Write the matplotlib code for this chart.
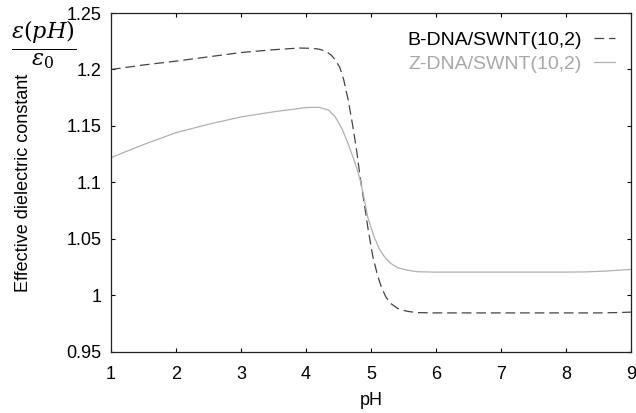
import matplotlib
matplotlib.use("Agg")
import matplotlib.pyplot as plt

plt.rcParams['font.family'] = ['Liberation Sans', 'DejaVu Sans']
plt.rcParams['lines.scale_dashes'] = False
plt.rcParams['mathtext.fontset'] = 'dejavuserif'

# Data
ph_b = [1.0, 1.5, 2.0, 2.5, 3.0, 3.5, 3.9, 4.1, 4.2, 4.3, 4.39, 4.45, 4.52, 4.58, 4.65, 4.72,
        4.78, 4.83, 4.90, 4.96, 5.03, 5.10, 5.16, 5.23, 5.30, 5.41, 5.55, 5.70, 6.0, 7.0, 8.0,
        8.5, 8.8, 9.0]
eps_b = [1.200, 1.2040, 1.2074, 1.2112, 1.2150, 1.2175, 1.2190, 1.2187, 1.2180, 1.2163,
         1.2127, 1.2085, 1.2020, 1.1910, 1.1728, 1.1500, 1.1280, 1.1060, 1.0800, 1.0570,
         1.0340, 1.0180, 1.0073, 0.9985, 0.9930, 0.9885, 0.9860, 0.9848, 0.9845, 0.9845,
         0.9845, 0.9845, 0.9848, 0.9852]

ph_z = [1.0, 1.5, 2.0, 2.5, 3.0, 3.5, 4.0, 4.2, 4.35, 4.45, 4.55, 4.65, 4.72, 4.78, 4.83,
        4.88, 4.95, 5.05, 5.13, 5.21, 5.30, 5.41, 5.55, 5.70, 6.0, 7.0, 8.0, 8.3, 8.6, 9.0]
eps_z = [1.1220, 1.1335, 1.1441, 1.1515, 1.1580, 1.1625, 1.1663, 1.1665, 1.1640, 1.1580,
         1.1480, 1.1340, 1.1230, 1.1130, 1.1030, 1.0900, 1.0693, 1.0516, 1.0410, 1.0340,
         1.0285, 1.0245, 1.0225, 1.0210, 1.0206, 1.0206, 1.0206, 1.0208, 1.0215, 1.0230]

xticks = [1, 2, 3, 4, 5, 6, 7, 8, 9]
yticks = [0.95, 1.0, 1.05, 1.1, 1.15, 1.2, 1.25]
ytick_labels = ['0.95', '1', '1.05', '1.1', '1.15', '1.2', '1.25']

fig = plt.figure(figsize=(6.36, 4.13), dpi=100)
ax = fig.add_axes([0.1745, 0.148, 0.8176, 0.8205])

ax.plot(ph_b, eps_b, color='#444444', lw=0.9, dashes=(7, 3.5), label='B-DNA/SWNT(10,2)')
ax.plot(ph_z, eps_z, color='#b0b0b0', lw=0.9, label='Z-DNA/SWNT(10,2)')

ax.set_xlim(1, 9)
ax.set_ylim(0.95, 1.25)
ax.set_xticks(xticks)
ax.set_xticklabels([str(t) for t in xticks])
ax.set_yticks(yticks)
ax.set_yticklabels(ytick_labels)
ax.tick_params(direction='in', top=True, right=True, length=3, width=0.8,
               labelsize=13, colors='black')
ax.tick_params(axis='y', pad=7)
ax.tick_params(axis='x', pad=10)
for s in ax.spines.values():
    s.set_linewidth(0.9)
    s.set_color('#222222')

ax.set_xlabel('pH', fontsize=13, labelpad=7)
fig.text(0.037, 0.558, 'Effective dielectric constant', rotation=90, fontsize=13,
         ha='center', va='center')
fig.text(0.069, 0.892, r'$\frac{\varepsilon(pH)}{\varepsilon_0}$', fontsize=23,
         ha='center', va='center')

leg = ax.legend(loc='upper right', bbox_to_anchor=(1.003, 0.997), frameon=False,
                markerfirst=False, fontsize=14, handlelength=1.1, handletextpad=0.62,
                labelspacing=0.3)
leg.get_texts()[0].set_color('black')
leg.get_texts()[1].set_color('#a8a8a8')

fig.savefig('out.png', dpi=100)
